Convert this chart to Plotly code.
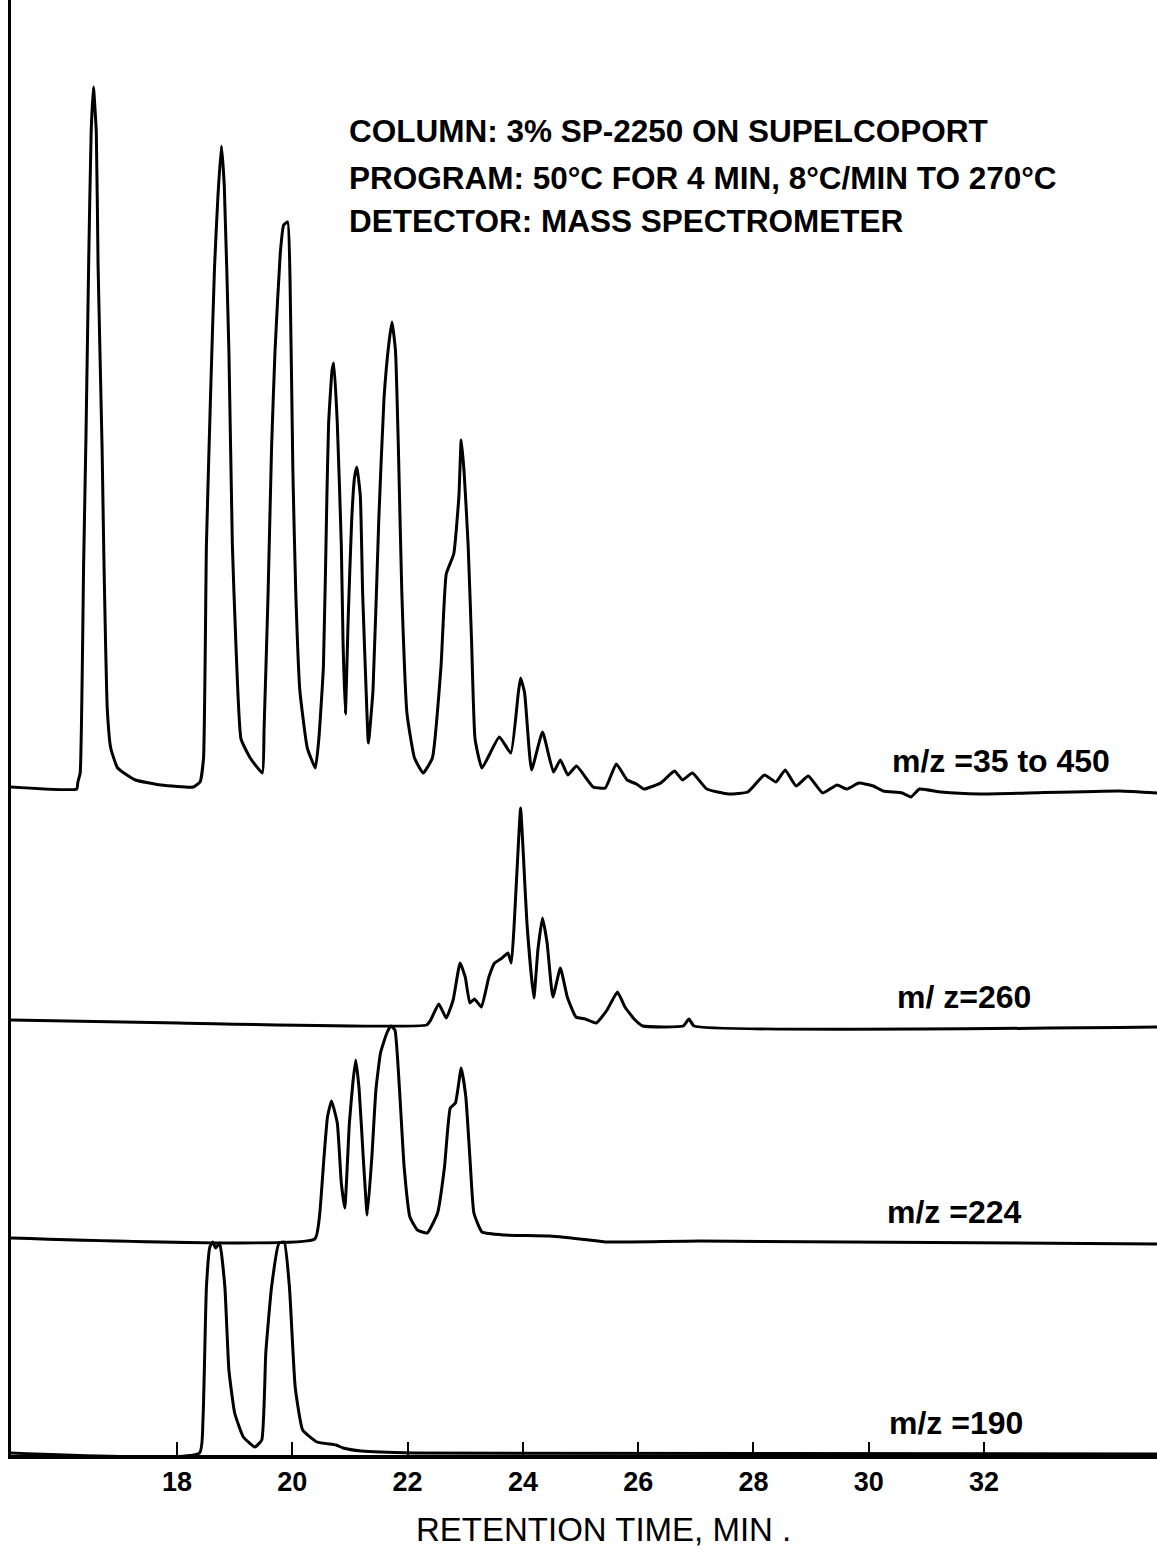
import plotly.graph_objects as go

# ---- data (retention time in min, relative intensity above each trace's baseline) ----
t_full = [15.12, 16.26, 16.28, 16.32, 16.38, 16.42, 16.47, 16.51, 16.55, 16.60, 16.63, 16.70, 16.73, 16.76,
          16.79, 16.85, 16.97, 17.28, 17.72, 18.28, 18.40, 18.46, 18.51, 18.58, 18.65, 18.71, 18.77, 18.82,
          18.90, 18.96, 19.02, 19.11, 19.27, 19.48, 19.51, 19.58, 19.64, 19.70, 19.79, 19.85, 19.92, 19.96,
          20.01, 20.06, 20.13, 20.26, 20.40, 20.46, 20.54, 20.60, 20.63, 20.69, 20.72, 20.78, 20.85, 20.88,
          20.92, 20.97, 21.03, 21.08, 21.12, 21.18, 21.22, 21.28, 21.32, 21.40, 21.50, 21.59, 21.68, 21.73,
          21.79, 21.84, 21.90, 21.99, 22.12, 22.27, 22.43, 22.58, 22.67, 22.80, 22.89, 22.93, 22.98, 23.05,
          23.11, 23.17, 23.29, 23.59, 23.79, 23.92, 23.96, 24.03, 24.15, 24.34, 24.53, 24.65, 24.78, 24.93,
          25.22, 25.43, 25.62, 25.81, 25.97, 26.10, 26.39, 26.63, 26.77, 26.94, 27.19, 27.57, 27.90, 28.19,
          28.39, 28.55, 28.74, 28.95, 29.20, 29.45, 29.62, 29.83, 30.08, 30.25, 30.58, 30.73, 30.88, 31.25,
          31.92, 32.76, 34.35, 35.00]
i_full = [2, 0, 7, 16, 225, 351, 535, 656, 702, 656, 525, 341, 235, 147,
          80, 41, 21, 9, 4, 2, 7, 31, 244, 390, 521, 593, 643, 603,
          438, 244, 147, 50, 31, 16, 60, 196, 341, 438, 535, 564, 567, 511,
          317, 196, 99, 41, 21, 50, 123, 293, 366, 419, 426, 366, 244, 147,
          75, 172, 269, 312, 322, 293, 196, 99, 46, 99, 269, 390, 448, 467,
          438, 341, 196, 75, 31, 16, 31, 123, 215, 235, 293, 349, 317, 244,
          147, 50, 21, 52, 36, 96, 111, 96, 19, 57, 17, 29, 14, 23,
          2, 1, 25, 9, 5, 0, 6, 18, 9, 16, 0, -5, -3, 14,
          7, 19, 3, 13, -4, 4, 0, 6, 3, -2, -4, -8, 0, -3,
          -5, -4, -2, -4]

t_260 = [15.12, 18.03, 22.33, 22.40, 22.54, 22.67, 22.79, 22.91, 23.00, 23.08, 23.16, 23.28, 23.41, 23.51,
         23.64, 23.74, 23.80, 23.85, 23.91, 23.96, 24.01, 24.07, 24.19, 24.26, 24.34, 24.42, 24.52, 24.65,
         24.77, 24.92, 25.08, 25.27, 25.46, 25.64, 25.77, 25.93, 26.08, 26.78, 26.88, 26.97, 35.00]
i_260 = [4, 1, -1, 4, 20, 6, 24, 61, 47, 21, 25, 17, 47, 61,
         66, 71, 61, 101, 167, 216, 167, 101, 26, 74, 106, 81, 27, 56,
         27, 7, 5, 1, 14, 32, 17, 5, -2, -2, 5, -2, -3]

t_224 = [15.12, 20.39, 20.47, 20.55, 20.61, 20.68, 20.78, 20.85, 20.91, 20.99, 21.05, 21.10, 21.16, 21.23,
         21.30, 21.38, 21.45, 21.53, 21.64, 21.71, 21.78, 21.86, 21.94, 22.04, 22.17, 22.34, 22.52, 22.64,
         22.74, 22.83, 22.93, 23.01, 23.08, 23.15, 23.29, 23.68, 24.46, 25.15, 25.43, 27.07, 35.00]
i_224 = [1, 0, 22, 82, 122, 138, 116, 56, 31, 116, 156, 179, 149, 82,
         24, 82, 149, 186, 206, 213, 209, 149, 72, 22, 9, 6, 26, 72,
         131, 136, 171, 142, 82, 26, 7, 4, 3, -1, -3, -2, -5]

t_190 = [15.12, 18.39, 18.45, 18.51, 18.57, 18.62, 18.67, 18.74, 18.83, 18.90, 19.00, 19.15, 19.35, 19.47,
         19.54, 19.64, 19.77, 19.86, 19.95, 20.05, 20.18, 20.43, 20.76, 20.88, 21.20, 22.10, 35.00]
i_190 = [1, 1, 34, 167, 207, 212, 206, 211, 167, 84, 41, 17, 7, 14,
         101, 167, 211, 212, 167, 67, 24, 12, 9, 6, 3, 1, 0]

trace_labels = ["m/z =35 to 450", "m/ z=260", "m/z =224", "m/z =190"]
tick_vals = [18, 20, 22, 24, 26, 28, 30, 32]
info_lines = ["COLUMN: 3% SP-2250 ON SUPELCOPORT",
              "PROGRAM: 50\u00b0C FOR 4 MIN, 8\u00b0C/MIN TO 270\u00b0C",
              "DETECTOR: MASS SPECTROMETER"]
x_title = "RETENTION TIME, MIN ."

# ---- layout constants ----
offsets = [666, 431, 216, 1]
series = [(t_full, i_full), (t_260, i_260), (t_224, i_224), (t_190, i_190)]
WIDE = "Liberation Sans, Arial, sans-serif"

fig = go.Figure()
for (t, inten), off in zip(series, offsets):
    fig.add_trace(go.Scatter(x=t, y=[v + off for v in inten], mode="lines",
                             line=dict(color="black", width=3, shape="spline", smoothing=0.4),
                             showlegend=False, hoverinfo="skip"))

# trace labels
label_pos = [(30.37, 694), (30.46, 458), (30.28, 243), (30.32, 32)]
for txt, (lx, ly) in zip(trace_labels, label_pos):
    fig.add_annotation(x=lx, y=ly, xref="x", yref="y", text=f"<b>{txt}</b>", showarrow=False,
                       xanchor="left", yanchor="middle", font=dict(family=WIDE, size=32, color="black"))

# info text block
info_y = [1324, 1277, 1234]
for line, ly in zip(info_lines, info_y):
    fig.add_annotation(x=20.95, y=ly, xref="x", yref="y", text=f"<b>{line}</b>",
                       showarrow=False, xanchor="left", yanchor="middle",
                       font=dict(family=WIDE, size=31.5, color="black"))

fig.add_annotation(x=0.5166, y=-0.0509, xref="paper", yref="paper", text=x_title, showarrow=False,
                   xanchor="center", yanchor="middle", font=dict(family=WIDE, size=33, color="black"))

fig.update_layout(
    width=1157, height=1561,
    margin=dict(l=11, r=0, t=0, b=106),
    paper_bgcolor="white", plot_bgcolor="white",
    xaxis=dict(range=[15.12, 35.0], tickvals=tick_vals, ticktext=[f"<b>{v}</b>" for v in tick_vals],
               ticks="inside", ticklen=13, tickwidth=2, tickcolor="black",
               showline=True, linewidth=4, linecolor="black", showgrid=False, zeroline=False,
               tickfont=dict(family=WIDE, size=27, color="black")),
    yaxis=dict(range=[0, 1455], showticklabels=False, ticks="", showline=True, linewidth=3,
               linecolor="black", showgrid=False, zeroline=False),
)

fig.write_html("out.html", config={"displayModeBar": False},
               post_script="document.body.style.margin='0px';")
